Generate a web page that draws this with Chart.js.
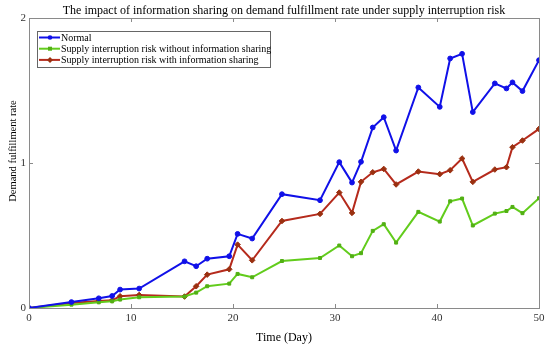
<!DOCTYPE html>
<html>
<head>
<meta charset="utf-8">
<script src="https://cdn.jsdelivr.net/npm/chart.js@4.4.0/dist/chart.umd.min.js"></script>
<style>
html,body{margin:0;padding:0;background:#fff;}
#wrap{width:550px;height:345px;position:relative;}
</style>
</head>
<body>
<div id="wrap"><canvas id="c" width="550" height="345"></canvas></div>
<script>
const days = [0, 4.16, 6.84, 8.15, 8.93, 10.8, 15.25, 16.39, 17.47, 19.63, 20.45, 21.88, 24.8, 28.53, 30.42, 31.67, 32.55, 33.7, 34.78, 35.99, 38.17, 40.27, 41.29, 42.46, 43.51, 45.67, 46.81, 47.4, 48.38, 50];
const normal = [0, 0.041, 0.067, 0.083, 0.127, 0.134, 0.322, 0.288, 0.34, 0.357, 0.511, 0.479, 0.785, 0.743, 1.006, 0.865, 1.008, 1.245, 1.316, 1.086, 1.521, 1.387, 1.721, 1.753, 1.351, 1.549, 1.514, 1.556, 1.496, 1.709];
const withoutSharing = [0, 0.023, 0.039, 0.046, 0.058, 0.074, 0.079, 0.106, 0.15, 0.168, 0.235, 0.212, 0.324, 0.345, 0.431, 0.357, 0.378, 0.532, 0.578, 0.451, 0.663, 0.596, 0.736, 0.755, 0.569, 0.651, 0.669, 0.697, 0.654, 0.757];
const withSharing = [0, 0.035, 0.048, 0.053, 0.081, 0.09, 0.079, 0.15, 0.23, 0.267, 0.437, 0.329, 0.6, 0.649, 0.796, 0.656, 0.87, 0.936, 0.959, 0.852, 0.941, 0.923, 0.95, 1.031, 0.87, 0.955, 0.971, 1.109, 1.155, 1.235];
const xTicks = [0, 10, 20, 30, 40, 50];
const yTicks = [0, 1, 2];
const seriesLabels = ['Normal', 'Supply interruption risk without information sharing', 'Supply interruption risk with information sharing'];
const chartTitle = 'The impact of information sharing on demand fulfillment rate under supply interruption risk';
const yTitle = 'Demand fulfillment rate';

const SERIF = '"Liberation Serif", "DejaVu Serif", serif';

function pts(vals){ return days.map((d,i)=>({x:d, y:vals[i]})); }

const frameTicks = {
  id:'frameTicks',
  afterDatasetsDraw(chart){
    const ctx = chart.ctx, a = chart.chartArea;
    const xs = chart.scales.x, ys = chart.scales.y;
    ctx.save();
    ctx.strokeStyle = '#8a8a8a';
    ctx.lineWidth = 1;
    ctx.strokeRect(Math.round(a.left)+0.5, Math.round(a.top)+0.5, Math.round(a.right-a.left), Math.round(a.bottom-a.top));
    const L = 4;
    ctx.beginPath();
    xTicks.forEach(v=>{
      const px = Math.round(xs.getPixelForValue(v))+0.5;
      ctx.moveTo(px, a.bottom); ctx.lineTo(px, a.bottom-L);
      ctx.moveTo(px, a.top); ctx.lineTo(px, a.top+L);
    });
    yTicks.forEach(v=>{
      const py = Math.round(ys.getPixelForValue(v))+0.5;
      ctx.moveTo(a.left, py); ctx.lineTo(a.left+L, py);
      ctx.moveTo(a.right, py); ctx.lineTo(a.right-L, py);
    });
    ctx.stroke();
    // chart title, centred over the plot area
    ctx.fillStyle = '#000';
    ctx.font = '12px ' + SERIF;
    ctx.textAlign = 'center';
    ctx.textBaseline = 'middle';
    ctx.fillText(chartTitle, (a.left + a.right)/2, 10.5);
    // y axis title
    ctx.font = '10.5px ' + SERIF;
    ctx.translate(13, 151);
    ctx.rotate(-Math.PI/2);
    ctx.fillText(yTitle, 0, 0);
    ctx.restore();
  }
};

const boxLegend = {
  id:'boxLegend',
  afterDraw(chart){
    const ctx = chart.ctx;
    const x0 = 37, y0 = 31, w = 233, h = 36;
    ctx.save();
    ctx.fillStyle = '#fff';
    ctx.fillRect(x0, y0, w, h);
    ctx.strokeStyle = '#666';
    ctx.lineWidth = 1;
    ctx.strokeRect(x0+0.5, y0+0.5, w, h);
    ctx.font = '10px ' + SERIF;
    ctx.textBaseline = 'middle';
    ctx.textAlign = 'left';
    chart.data.datasets.forEach((ds, i)=>{
      const yy = y0 + 6.5 + i*11.2;
      ctx.strokeStyle = ds.borderColor;
      ctx.lineWidth = 2;
      ctx.beginPath(); ctx.moveTo(x0+2, yy); ctx.lineTo(x0+23, yy); ctx.stroke();
      ctx.fillStyle = ds.pointBackgroundColor;
      const cx = x0+13;
      ctx.beginPath();
      if (ds.pointStyle === 'circle') { ctx.arc(cx, yy, 2.3, 0, Math.PI*2); }
      else if (ds.pointStyle === 'rect') { ctx.rect(cx-2, yy-2, 4, 4); }
      else { ctx.moveTo(cx, yy-3); ctx.lineTo(cx+3, yy); ctx.lineTo(cx, yy+3); ctx.lineTo(cx-3, yy); ctx.closePath(); }
      ctx.fill();
      ctx.fillStyle = '#000';
      ctx.fillText(ds.label, x0+24, yy+0.5);
    });
    ctx.restore();
  }
};

new Chart(document.getElementById('c'), {
  type:'line',
  data:{
    datasets:[
      {label:seriesLabels[0], data:pts(normal), borderColor:'#1010e8', backgroundColor:'#1010e8', pointBackgroundColor:'#1010e8', pointBorderColor:'#1010e8', pointStyle:'circle', pointRadius:2.4, pointBorderWidth:1, borderWidth:2, tension:0},
      {label:seriesLabels[1], data:pts(withoutSharing), borderColor:'#62cc1c', backgroundColor:'#62cc1c', pointBackgroundColor:'#52b014', pointBorderColor:'#52b014', pointStyle:'rect', pointRadius:2.1, pointBorderWidth:1, borderWidth:2, tension:0},
      {label:seriesLabels[2], data:pts(withSharing), borderColor:'#b52a1c', backgroundColor:'#b52a1c', pointBackgroundColor:'#9a3010', pointBorderColor:'#9a3010', pointStyle:'rectRot', pointRadius:2.8, pointBorderWidth:1, borderWidth:2, tension:0}
    ]
  },
  options:{
    responsive:false,
    animation:false,
    layout:{padding:{left:0,right:11,top:18,bottom:0}},
    plugins:{
      legend:{display:false},
      tooltip:{enabled:false},
      title:{display:false}
    },
    scales:{
      x:{type:'linear', min:0, max:50,
        afterBuildTicks(s){ s.ticks = xTicks.map(v=>({value:v})); },
        afterFit(s){ s.height = 37; },
        grid:{display:false, drawTicks:false}, border:{display:false},
        ticks:{color:'#333', padding:4, font:{family:SERIF, size:11}, maxRotation:0},
        title:{display:true, text:'Time (Day)', color:'#000', font:{family:SERIF, size:12}, padding:{top:2,bottom:0}}
      },
      y:{type:'linear', min:0, max:2,
        afterBuildTicks(s){ s.ticks = yTicks.map(v=>({value:v})); },
        afterFit(s){ s.width = 29; },
        grid:{display:false, drawTicks:false}, border:{display:false},
        ticks:{color:'#333', padding:3, font:{family:SERIF, size:11}},
        title:{display:false}
      }
    }
  },
  plugins:[frameTicks, boxLegend]
});
</script>
</body>
</html>
